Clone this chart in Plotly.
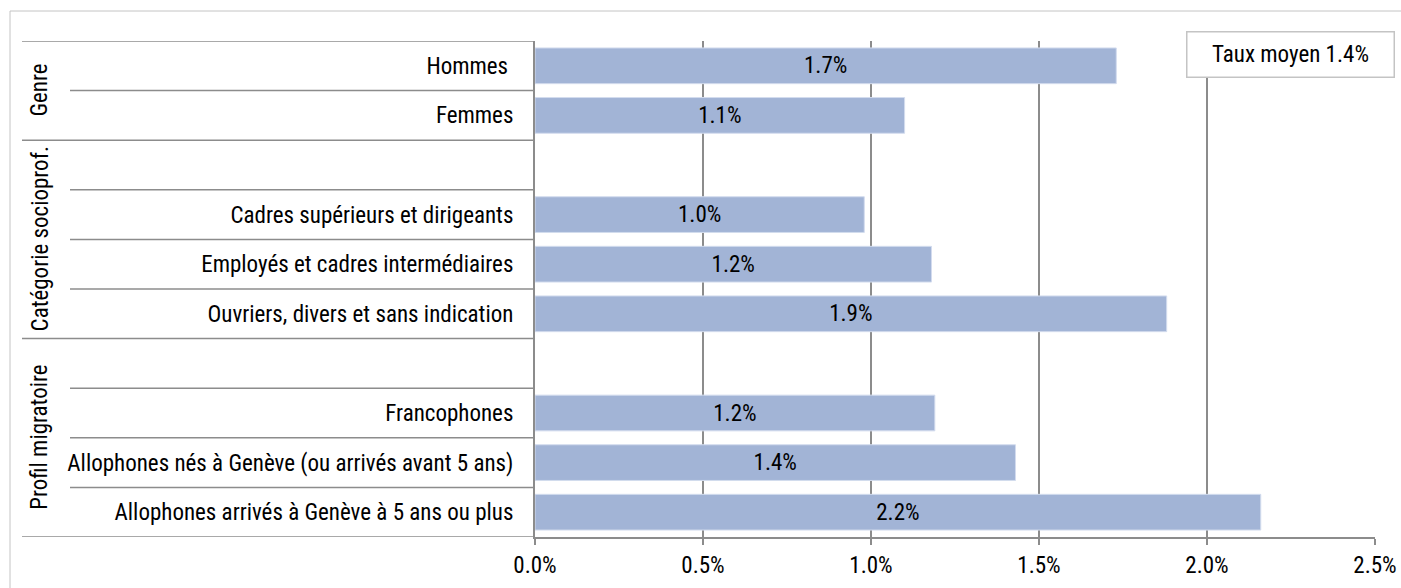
import plotly.graph_objects as go

# ---- data ----
categories = [
    "Hommes", "Femmes", None,
    "Cadres supérieurs et dirigeants", "Employés et cadres intermédiaires",
    "Ouvriers, divers et sans indication", None,
    "Francophones", "Allophones nés à Genève (ou arrivés avant 5 ans)",
    "Allophones arrivés à Genève à 5 ans ou plus",
]
values = [0.0173, 0.0110, None, 0.0098, 0.0118, 0.0188, None, 0.0119, 0.0143, 0.0216]
value_labels = ["1.7%", "1.1%", "", "1.0%", "1.2%", "1.9%", "", "1.2%", "1.4%", "2.2%"]
groups = ["Genre", "Catégorie socioprof.", "Profil migratoire"]
group_spans = [(0, 1), (2, 5), (6, 9)]
x_ticks = [0.0, 0.005, 0.010, 0.015, 0.020, 0.025]
x_ticklabels = ["0.0%", "0.5%", "1.0%", "1.5%", "2.0%", "2.5%"]
average_label = "Taux moyen 1.4%"

FONT = "Liberation Sans Narrow, Arial Narrow, Roboto Condensed, Liberation Sans, Arial, sans-serif"
FS = 23
GRID = "#8c8c8c"
BAR = "#A2B4D6"

rows = list(range(len(categories)))
ys = [r for r, v in zip(rows, values) if v is not None]
xs = [v for v in values if v is not None]
txt = [t for t, v in zip(value_labels, values) if v is not None]

fig = go.Figure()
fig.add_trace(go.Bar(
    x=xs, y=ys, orientation="h", width=0.72,
    marker=dict(color=BAR, line=dict(color="#D3DCEE", width=1)),
    text=txt, textposition="inside", insidetextanchor="middle",
    textfont=dict(family=FONT, size=FS, color="black"),
    cliponaxis=False, hoverinfo="skip",
))

tick_text = [(c if c is not None else "") for c in categories]
tick_text[0] = "Hommes\u00a0"

W_PLOT = 840.0
def px2paper(px):
    return (px - 535.0) / W_PLOT

shapes = []
group_bounds = set()
for a, b in group_spans:
    group_bounds.add(a - 0.5)
    group_bounds.add(b + 0.5)
for r in range(len(categories) + 1):
    yb = r - 0.5
    x0 = px2paper(22) if yb in group_bounds else px2paper(70)
    shapes.append(dict(type="line", xref="paper", yref="y", x0=x0, x1=0,
                       y0=yb, y1=yb, line=dict(color=GRID, width=1.5)))
shapes.append(dict(type="rect", xref="paper", yref="paper",
                   x0=px2paper(10), x1=px2paper(1420), y0=-0.2, y1=1 + 30 / 496.0,
                   line=dict(color="#c4c4c4", width=1), fillcolor="rgba(0,0,0,0)",
                   layer="below"))

annotations = []
for g, (a, b) in zip(groups, group_spans):
    annotations.append(dict(text=g, xref="paper", yref="y", x=px2paper(40),
                            y=(a + b) / 2.0, textangle=-90, showarrow=False,
                            font=dict(family=FONT, size=FS, color="black"),
                            xanchor="center", yanchor="middle"))
annotations.append(dict(text=average_label, xref="paper", yref="paper",
                        x=px2paper(1290), y=1 - (54 - 41) / 496.0,
                        showarrow=False, xanchor="center", yanchor="middle",
                        width=206, height=44, bgcolor="white",
                        bordercolor="#c4c4c4", borderwidth=1.5, borderpad=0,
                        font=dict(family=FONT, size=FS, color="black")))

fig.update_layout(
    width=1401, height=588,
    margin=dict(l=535, r=26, t=41, b=51, autoexpand=False),
    paper_bgcolor="white", plot_bgcolor="white",
    showlegend=False, bargap=0.28,
    shapes=shapes, annotations=annotations,
    font=dict(family=FONT, size=FS, color="black"),
    xaxis=dict(range=[0, 0.025], tickvals=x_ticks, ticktext=x_ticklabels,
               automargin=False,
               showgrid=True, gridcolor=GRID, gridwidth=1.5,
               showline=True, linecolor=GRID, linewidth=2,
               ticks="outside", ticklen=6, tickcolor=GRID, tickwidth=1.5,
               zeroline=False, tickfont=dict(family=FONT, size=FS, color="black")),
    yaxis=dict(range=[len(categories) - 0.5, -0.5], tickvals=rows, ticktext=tick_text,
               automargin=False,
               showgrid=False, zeroline=False, showline=True, linecolor=GRID,
               linewidth=2, ticks="", ticklabelstandoff=15,
               tickfont=dict(family=FONT, size=FS, color="black")),
)

fig.write_html("out.html", config={"displayModeBar": False},
               post_script="document.body.style.margin='0';document.body.style.overflow='hidden';")
